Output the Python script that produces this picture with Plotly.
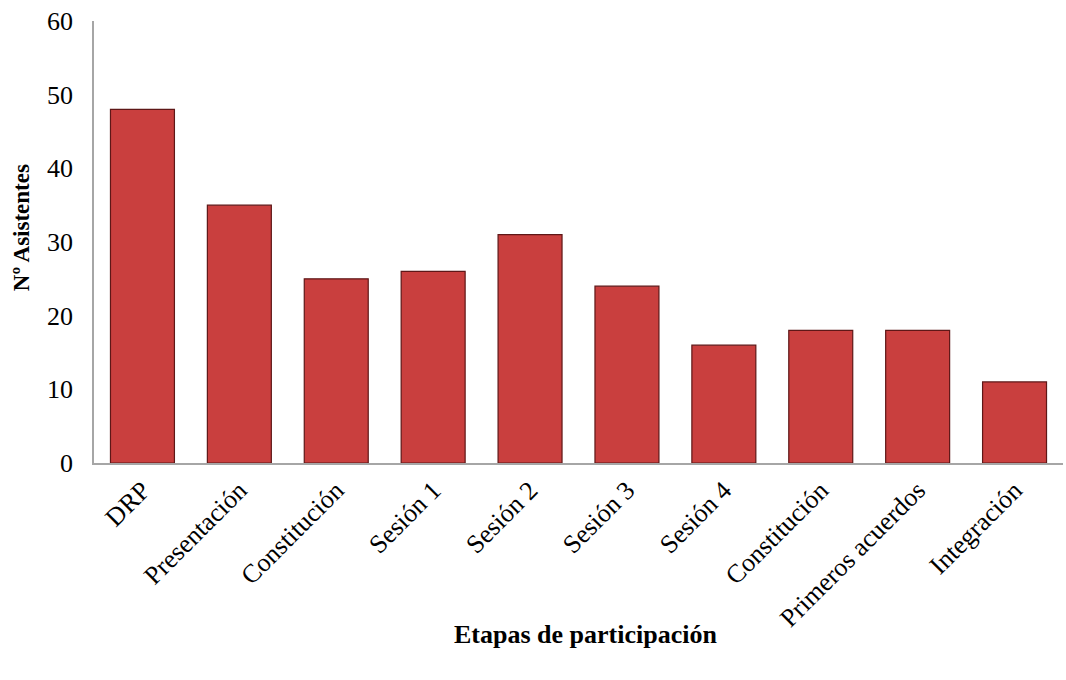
import plotly.graph_objects as go

categories = ["DRP", "Presentación", "Constitución", "Sesión 1", "Sesión 2",
              "Sesión 3", "Sesión 4", "Constitución", "Primeros acuerdos", "Integración"]
values = [48, 35, 25, 26, 31, 24, 16, 18, 18, 11]
y_ticks = [0, 10, 20, 30, 40, 50, 60]

x_pos = list(range(len(categories)))

fig = go.Figure()
fig.add_trace(go.Bar(
    x=x_pos, y=values,
    marker=dict(color="#c93f3e", line=dict(color="#5e1717", width=1.2)),
    width=0.66,
    showlegend=False,
))

font_family = "Liberation Serif, Times New Roman, serif"
fig.update_layout(
    width=1066, height=680,
    margin=dict(l=94, r=3, t=21, b=217),
    paper_bgcolor="white", plot_bgcolor="white",
    font=dict(family=font_family, size=26, color="black"),
    xaxis=dict(
        tickmode="array", tickvals=x_pos, ticktext=categories,
        tickangle=-45, range=[-0.5, len(categories) - 0.5],
        showline=True, linecolor="#a6a6a6", linewidth=1.5,
        showgrid=False, zeroline=False, ticks="",
        tickfont=dict(size=26),
    ),
    yaxis=dict(
        range=[0, 60], tickvals=y_ticks,
        showline=True, linecolor="#a6a6a6", linewidth=1.5,
        showgrid=False, zeroline=False, ticks="",
        ticklabelstandoff=14,
        tickfont=dict(size=26),
    ),
    annotations=[
        dict(text="<b>Etapas de participación</b>", xref="paper", yref="paper",
             x=0.507, y=-0.389, xanchor="center", yanchor="middle",
             showarrow=False, font=dict(size=26)),
        dict(text="<b>Nº Asistentes</b>", xref="paper", yref="paper",
             x=-0.074, y=0.532, xanchor="center", yanchor="middle", textangle=-90,
             showarrow=False, font=dict(size=23)),
    ],
)

fig.write_html("out.html")
